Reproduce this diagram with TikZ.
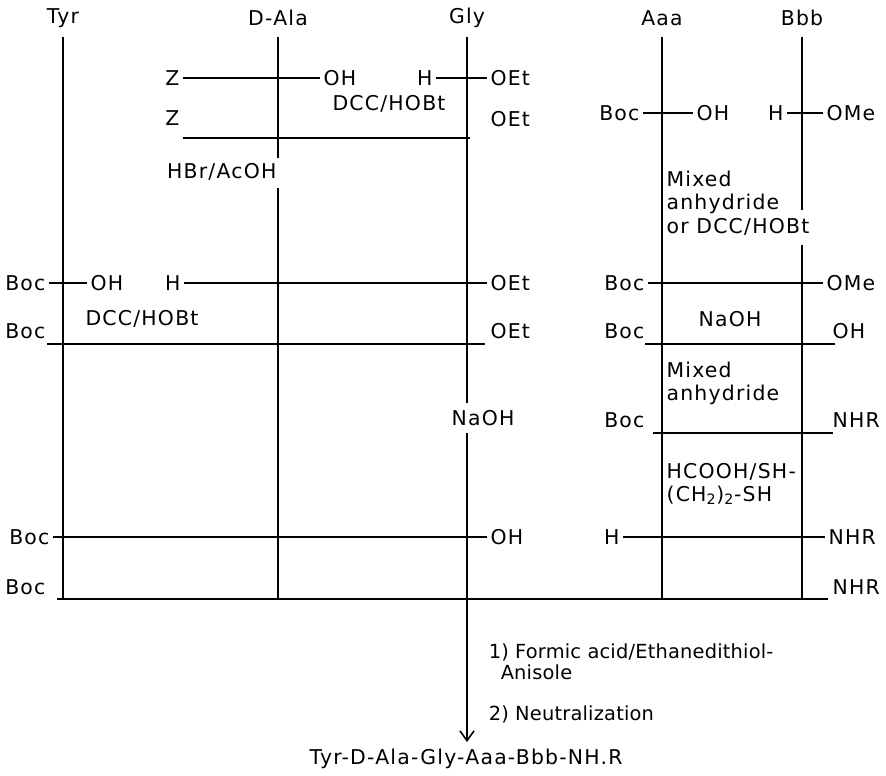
\documentclass[tikz,border=0pt]{standalone}
\usepackage{fontspec}
\newfontfamily\schemefont[LetterSpace=6]{DejaVu Sans}
\newfontfamily\stepfont[LetterSpace=1]{DejaVu Sans}
\usetikzlibrary{arrows.meta}

\begin{document}
\begin{tikzpicture}[x=0.025cm, y=-0.025cm, line width=1.1pt,
  lbl/.style={font=\schemefont\fontsize{14.5}{16.5}\selectfont, inner xsep=2pt, inner ysep=0pt},
  lw/.style={lbl, anchor=west},
  le/.style={lbl, anchor=east},
  reag/.style={lbl, anchor=west, align=left},
  stepl/.style={font=\stepfont\fontsize{13.8}{16}\selectfont, inner sep=0pt, anchor=west}]
\useasboundingbox (0,0) rectangle (886,775);
% ---- residue columns ----
\foreach \nm/\x/\lab in {tyr/63/Tyr, ala/278/D-Ala, gly/467/Gly, aaa/662/Aaa, bbb/802/Bbb} {
  \node[lbl] (\nm) at (\x,18) {\lab};
  \coordinate (\nm-top) at (\x,37);
  \coordinate (\nm-bot) at (\x,599);
}
\draw (tyr-top) -- (tyr-bot);
\draw (ala-top) -- (ala-top |- 0,158);
\draw (ala-bot |- 0,188) -- (ala-bot);
\draw (gly-top) -- (gly-top |- 0,403);
\draw[-{Straight Barb[length=7pt,width=10pt]}] (gly-top |- 0,433) -- (gly-top |- 0,742);
\draw (aaa-top) -- (aaa-bot);
\draw (bbb-top) -- (bbb-top |- 0,210);
\draw (bbb-bot |- 0,245) -- (bbb-bot);
% ---- Z-D-Ala-OH + H-Gly-OEt ----
\node[le] (z1) at (183,78) {Z};
\node[lw] (oh1) at (320,78) {OH};
\node[le] (h1) at (436,78) {H};
\node[lw] (oet1) at (487,78) {OEt};
\draw (z1) -- (oh1);
\draw (h1) -- (oet1);
\node[lbl] (dcc1) at (389,104) {DCC/HOBt};
\node[le] (z2) at (183,118) {Z};
\node[lw] (oet2) at (487,119) {OEt};
\coordinate (r2a) at (183,138);
\coordinate (r2b) at (470,138);
\draw (r2a) -- (r2b);
\node[le] (hbr) at (280,172) {HBr/AcOH};
% ---- Boc-Aaa-OH + H-Bbb-OMe ----
\node[le] (boc1) at (643,113) {Boc};
\node[lw] (oh2) at (693,113) {OH};
\node[le] (h2) at (787,113) {H};
\node[lw] (ome1) at (823,113) {OMe};
\draw (boc1) -- (oh2);
\draw (h2) -- (ome1);
\node[reag] (mix1) at (663,203) {Mixed\\anhydride\\or DCC/HOBt};
% ---- Boc-Tyr-OH + H-D-Ala-Gly-OEt ----
\node[le] (boc2) at (49,283) {Boc};
\node[lw] (oh3) at (87,283) {OH};
\node[le] (h3) at (184,283) {H};
\node[lw] (oet3) at (487,283) {OEt};
\draw (boc2) -- (oh3);
\draw (h3) -- (oet3);
\node[le] (boc3) at (648,283) {Boc};
\node[lw] (ome2) at (823,283) {OMe};
\draw (boc3) -- (ome2);
% ---- couplings ----
\node[le] (boc4) at (49,331) {Boc};
\node[lbl] (dcc2) at (142,319) {DCC/HOBt};
\node[lw] (oet4) at (487,331) {OEt};
\coordinate (r5a) at (47,344);
\coordinate (r5b) at (485,344);
\draw (r5a) -- (r5b);
\node[le] (boc5) at (648,331) {Boc};
\node[lbl] (naoh1) at (730,319) {NaOH};
\node[lw] (oh4) at (829,331) {OH};
\coordinate (r5c) at (645,344);
\coordinate (r5d) at (835,344);
\draw (r5c) -- (r5d);
\node[reag] (mix2) at (663,383) {Mixed\\anhydride};
\node[lbl] (naoh2) at (483,418) {NaOH};
\node[le] (boc6) at (648,420) {Boc};
\node[lw] (nhr1) at (829,420) {NHR};
\coordinate (r6a) at (653,433);
\coordinate (r6b) at (833,433);
\draw (r6a) -- (r6b);
\node[reag] (hcooh) at (663,484) {HCOOH/SH-\\(CH\textsubscript{2})\textsubscript{2}-SH};
% ---- fragment condensation ----
\node[le] (boc7) at (53,537) {Boc};
\node[lw] (oh5) at (487,537) {OH};
\draw (boc7) -- (oh5);
\node[le] (h4) at (623,537) {H};
\node[lw] (nhr2) at (825,537) {NHR};
\draw (h4) -- (nhr2);
\node[le] (boc8) at (49,587) {Boc};
\node[lw] (nhr3) at (829,587) {NHR};
\coordinate (r9a) at (57,599);
\coordinate (r9b) at (828,599);
\draw (r9a) -- (r9b);
% ---- deprotection ----
\node[stepl] (step1) at (488,652) {1) Formic acid/Ethanedithiol-};
\node[stepl] (step1b) at (500,672) {Anisole};
\node[stepl] (step2) at (488,714) {2) Neutralization};
\node[lbl] (prod) at (466,759) {Tyr-D-Ala-Gly-Aaa-Bbb-NH.R};
\end{tikzpicture}
\end{document}
